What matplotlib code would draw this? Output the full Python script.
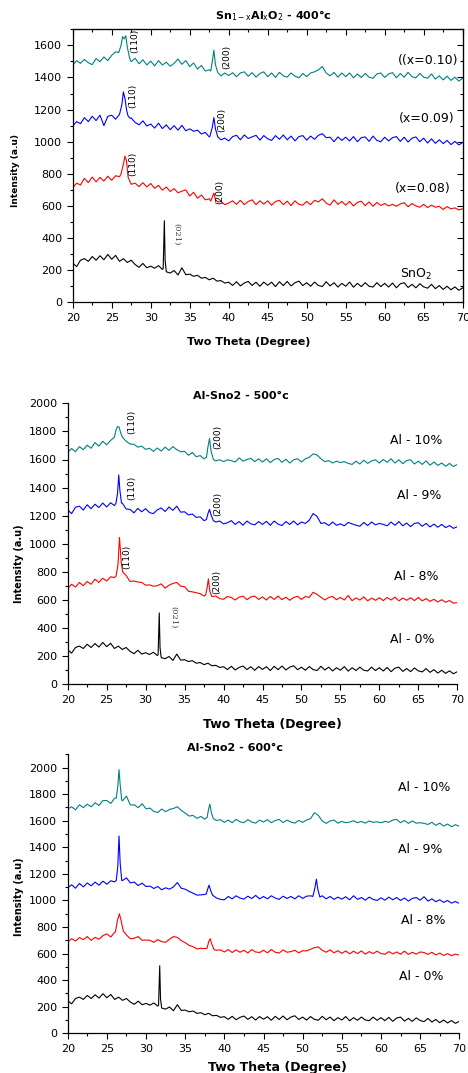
import numpy as np
import matplotlib
matplotlib.use("Agg")
import matplotlib.pyplot as plt
from matplotlib.ticker import MultipleLocator

# 2-theta grid, 0.5 degree steps (20 .. 70)
two_theta = np.arange(20, 70.01, 0.5)

# ---- 400 C ----
t400_base = [1475, 1505, 1488, 1512, 1492, 1480, 1518, 1498, 1528, 1505,
             1538, 1560, 1550, 1640, 1540, 1498, 1520, 1485, 1510, 1478,
             1502, 1472, 1505, 1478, 1495, 1470, 1488, 1515, 1482, 1505,
             1468, 1490, 1452, 1475, 1440, 1448, 1500, 1432, 1410, 1428,
             1412, 1430, 1405, 1428, 1435, 1408, 1430, 1402, 1425, 1435,
             1405, 1428, 1400, 1432, 1410, 1402, 1428, 1408, 1398, 1425,
             1405, 1428, 1435, 1448, 1468, 1428, 1410, 1432, 1402, 1428,
             1405, 1428, 1398, 1422, 1400, 1425, 1402, 1395, 1422, 1428,
             1400, 1422, 1430, 1398, 1425, 1402, 1432, 1405, 1398, 1425,
             1402, 1395, 1422, 1390, 1410, 1385, 1408, 1382, 1402, 1378,
             1395]
t400_peaks = [([25.9, 26.2, 26.4, 26.6, 26.8, 27.0, 27.3], [1555, 1600, 1655, 1640, 1660, 1590, 1520]),
              ([37.7, 37.9, 38.1, 38.3, 38.6], [1440, 1500, 1570, 1480, 1430])]

b400_base = [1098, 1125, 1112, 1150, 1125, 1158, 1132, 1165, 1100, 1158,
             1165, 1140, 1178, 1300, 1200, 1148, 1120, 1105, 1130, 1098,
             1110, 1085, 1115, 1082, 1105, 1075, 1100, 1072, 1102, 1068,
             1080, 1065, 1072, 1048, 1058, 1030, 1100, 1045, 1012, 1022,
             1005, 1032, 1040, 1012, 1042, 1020, 1030, 1040, 1010, 1038,
             1018, 1008, 1038, 1015, 1042, 1012, 1035, 1005, 1032, 1038,
             1010, 1035, 1015, 1040, 1050, 1025, 1028, 1000, 1030, 1008,
             1028, 1005, 1032, 1000, 1025, 1030, 1002, 1035, 1008, 1000,
             1028, 1005, 1025, 1032, 1002, 1028, 998, 1022, 1030, 1000,
             1022, 992, 1018, 990, 1012, 988, 1008, 982, 1002, 980,
             995]
b400_peaks = [([26.0, 26.3, 26.5, 26.7, 26.9, 27.1, 27.4], [1170, 1230, 1310, 1270, 1200, 1160, 1145]),
              ([37.6, 37.9, 38.1, 38.3, 38.6], [1035, 1090, 1150, 1080, 1030])]

r400_base = [712, 742, 730, 772, 745, 780, 750, 778, 755, 785,
             760, 788, 782, 880, 780, 735, 742, 720, 745, 718,
             740, 710, 728, 698, 718, 690, 708, 682, 692, 700,
             662, 685, 648, 668, 638, 645, 660, 625, 628, 608,
             618, 632, 610, 635, 608, 628, 638, 608, 632, 612,
             632, 605, 628, 635, 608, 630, 602, 632, 610, 605,
             628, 608, 635, 625, 645, 618, 605, 638, 610, 628,
             605, 628, 600, 622, 630, 602, 625, 598, 622, 603,
             615, 600, 610, 598, 612, 620, 595, 615, 600, 592,
             610, 590, 605, 592, 598, 578, 596, 582, 588, 575,
             582]
r400_peaks = [([26.2, 26.5, 26.7, 26.9, 27.1, 27.4], [800, 860, 910, 880, 780, 745]),
              ([37.7, 37.9, 38.1, 38.3, 38.6], [630, 655, 680, 640, 625])]

# SnO2 / Al 0% (same pattern in all three panels)
k_base = [245, 222, 262, 272, 255, 285, 262, 290, 265, 298,
          268, 292, 255, 272, 248, 262, 235, 218, 242, 215,
          225, 212, 228, 205, 195, 182, 198, 170, 215, 172,
          175, 162, 168, 150, 155, 140, 150, 132, 135, 120,
          125, 105, 128, 102, 120, 130, 105, 125, 100, 126,
          106, 125, 98, 128, 104, 130, 102, 122, 132, 104,
          122, 100, 126, 105, 98, 128, 102, 122, 95, 118,
          100, 126, 94, 118, 98, 122, 100, 95, 122, 98,
          118, 95, 120, 90, 115, 122, 92, 112, 90, 116,
          96, 88, 112, 85, 104, 80, 100, 78, 96, 75,
          90]
k_peaks = [([31.6, 31.75, 31.85, 32.0], [210, 508, 260, 190])]

# ---- 500 C ----
t500_base = [1650, 1678, 1655, 1692, 1670, 1702, 1680, 1720, 1695, 1730,
             1705, 1735, 1755, 1820, 1760, 1730, 1710, 1708, 1688, 1695,
             1672, 1680, 1658, 1682, 1660, 1688, 1665, 1692, 1670, 1655,
             1658, 1630, 1650, 1620, 1628, 1605, 1680, 1612, 1590, 1598,
             1585, 1598, 1592, 1582, 1612, 1588, 1600, 1608, 1585, 1605,
             1582, 1605, 1578, 1600, 1608, 1580, 1602, 1575, 1598, 1605,
             1582, 1605, 1615, 1640, 1632, 1605, 1585, 1592, 1575, 1588,
             1578, 1585, 1572, 1565, 1588, 1568, 1595, 1572, 1590, 1598,
             1575, 1600, 1580, 1605, 1575, 1598, 1570, 1592, 1598, 1568,
             1588, 1565, 1590, 1560, 1582, 1558, 1575, 1552, 1572, 1550,
             1565]
t500_peaks = [([26.0, 26.2, 26.4, 26.6, 26.8, 27.0], [1760, 1810, 1835, 1830, 1790, 1760]),
              ([37.8, 38.0, 38.2, 38.4, 38.7], [1615, 1690, 1750, 1660, 1600])]

b500_base = [1242, 1215, 1260, 1268, 1240, 1278, 1250, 1282, 1258, 1290,
             1262, 1292, 1272, 1400, 1290, 1248, 1245, 1220, 1252, 1228,
             1250, 1222, 1215, 1242, 1255, 1230, 1262, 1238, 1268, 1225,
             1228, 1205, 1212, 1188, 1192, 1165, 1220, 1195, 1155, 1162,
             1142, 1150, 1165, 1138, 1158, 1132, 1162, 1142, 1135, 1158,
             1138, 1160, 1132, 1162, 1140, 1130, 1158, 1138, 1162, 1135,
             1155, 1145, 1168, 1215, 1195, 1145, 1150, 1130, 1155, 1132,
             1142, 1128, 1152, 1142, 1132, 1125, 1152, 1130, 1155, 1135,
             1145, 1138, 1128, 1155, 1132, 1158, 1128, 1148, 1122, 1145,
             1150, 1125, 1145, 1120, 1140, 1118, 1138, 1115, 1130, 1110,
             1122]
b500_peaks = [([26.2, 26.4, 26.55, 26.7, 26.9], [1290, 1360, 1490, 1380, 1290]),
              ([37.8, 38.0, 38.2, 38.4, 38.7], [1172, 1215, 1245, 1205, 1165])]

r500_base = [682, 712, 692, 725, 702, 732, 712, 748, 725, 755,
             735, 765, 760, 900, 795, 775, 732, 735, 728, 725,
             705, 708, 698, 702, 715, 685, 705, 718, 725, 698,
             695, 662, 658, 652, 645, 628, 700, 632, 628, 610,
             605, 625, 618, 600, 620, 628, 602, 622, 628, 604,
             622, 600, 625, 604, 628, 602, 620, 598, 618, 626,
             604, 625, 618, 655, 640, 620, 600, 618, 626, 602,
             618, 600, 632, 595, 615, 600, 622, 594, 614, 598,
             616, 596, 618, 600, 620, 594, 614, 598, 616, 596,
             618, 594, 610, 590, 605, 586, 602, 584, 596, 578,
             582]
r500_peaks = [([26.2, 26.45, 26.65, 26.85, 27.05], [770, 850, 1045, 880, 800]),
              ([37.7, 37.9, 38.05, 38.25, 38.5], [635, 690, 750, 660, 625])]

# ---- 600 C ----
t600_base = [1688, 1705, 1682, 1720, 1698, 1725, 1705, 1735, 1715, 1752,
             1752, 1730, 1770, 1900, 1750, 1785, 1718, 1720, 1698, 1728,
             1690, 1695, 1670, 1662, 1688, 1668, 1685, 1692, 1705, 1678,
             1658, 1635, 1640, 1618, 1632, 1612, 1690, 1628, 1602, 1608,
             1588, 1605, 1585, 1610, 1592, 1585, 1608, 1590, 1582, 1605,
             1590, 1608, 1585, 1602, 1610, 1586, 1605, 1590, 1582, 1602,
             1588, 1605, 1615, 1660, 1640, 1598, 1580, 1598, 1605, 1582,
             1595, 1585, 1590, 1600, 1585, 1595, 1582, 1598, 1588, 1592,
             1585, 1595, 1588, 1605, 1610, 1585, 1602, 1580, 1598, 1582,
             1585, 1580, 1572, 1588, 1565, 1582, 1560, 1575, 1555, 1570,
             1558]
t600_peaks = [([26.2, 26.4, 26.55, 26.7, 26.9], [1770, 1860, 1985, 1870, 1755]),
              ([37.8, 38.0, 38.15, 38.35, 38.6], [1625, 1690, 1725, 1660, 1615])]

b600_base = [1095, 1118, 1092, 1128, 1102, 1132, 1110, 1138, 1115, 1145,
             1122, 1148, 1140, 1400, 1150, 1170, 1132, 1138, 1112, 1130,
             1105, 1108, 1090, 1105, 1080, 1095, 1085, 1102, 1135, 1092,
             1085, 1068, 1055, 1040, 1042, 1045, 1100, 1065, 1018, 1008,
             1005, 1030, 1012, 1035, 1018, 1010, 1032, 1015, 1038, 1012,
             1030, 1012, 1035, 1018, 1008, 1032, 1015, 1030, 1012, 1035,
             1015, 1032, 1035, 1100, 1100, 1035, 1012, 1030, 1008, 1025,
             1010, 1028, 1005, 1035, 1008, 1022, 1002, 1025, 1008, 1000,
             1020, 1002, 1025, 1005, 1022, 1000, 1018, 995, 1015, 1022,
             1002, 1028, 995, 1012, 990, 1005, 985, 1000, 980, 992,
             978]
b600_peaks = [([26.2, 26.4, 26.55, 26.7, 26.9], [1150, 1260, 1485, 1280, 1150]),
              ([37.7, 37.9, 38.05, 38.25, 38.5], [1050, 1090, 1115, 1075, 1040]),
              ([51.3, 51.55, 51.75, 51.95, 52.2], [1030, 1090, 1160, 1080, 1025])]

r600_base = [685, 712, 695, 720, 705, 728, 700, 722, 708, 735,
             748, 725, 760, 880, 775, 740, 712, 715, 728, 700,
             702, 700, 685, 705, 690, 685, 708, 728, 722, 698,
             682, 662, 652, 635, 640, 638, 690, 690, 625, 628,
             612, 630, 608, 628, 610, 625, 605, 630, 612, 608,
             625, 606, 630, 610, 604, 628, 610, 615, 625, 606,
             622, 620, 632, 645, 650, 625, 610, 628, 606, 622,
             602, 620, 598, 618, 600, 620, 596, 615, 600, 618,
             600, 595, 615, 598, 612, 595, 618, 594, 610, 596,
             612, 608, 594, 610, 590, 604, 586, 600, 584, 596,
             588]
r600_peaks = [([26.1, 26.35, 26.6, 26.85, 27.1], [765, 850, 900, 840, 770]),
              ([37.8, 38.0, 38.2, 38.4, 38.7], [640, 690, 712, 670, 630])]

TEAL = "#008080"


def build(base, peaks):
    x = two_theta.copy()
    y = np.array(base, dtype=float)
    keep = np.ones(len(x), dtype=bool)
    px_all, py_all = [], []
    for px, py in peaks:
        keep &= ~((x >= px[0]) & (x <= px[-1]))
        px_all += list(px)
        py_all += list(py)
    xs = np.concatenate([x[keep], px_all])
    ys = np.concatenate([y[keep], py_all])
    order = np.argsort(xs)
    return xs[order], ys[order]


def set_locators(axis_obj, major, minor):
    axis_obj.set_major_locator(MultipleLocator(major))
    axis_obj.set_minor_locator(MultipleLocator(minor))


def style_axes(ax, ymax, boxed):
    ax.set_xlim(20, 70)
    ax.set_ylim(0, ymax)
    set_locators(ax.xaxis, 5, 2.5)
    set_locators(ax.yaxis, 200, 100)
    ax.tick_params(which="both", direction="out", labelsize=8, width=0.8)
    ax.tick_params(which="major", length=4)
    ax.tick_params(which="minor", length=2.5)
    for s in ax.spines.values():
        s.set_linewidth(0.9)
    if boxed:
        # inward ticks on top and right, no labels
        top = ax.secondary_xaxis("top")
        set_locators(top.xaxis, 5, 2.5)
        top.tick_params(which="both", direction="in", labeltop=False, width=0.8)
        top.tick_params(which="major", length=4)
        top.tick_params(which="minor", length=2.5)
        right = ax.secondary_yaxis("right")
        set_locators(right.yaxis, 200, 100)
        right.tick_params(which="both", direction="in", labelright=False, width=0.8)
        right.tick_params(which="major", length=4)
        right.tick_params(which="minor", length=2.5)
    else:
        ax.spines["top"].set_visible(False)
        ax.spines["right"].set_visible(False)


W, H = 468, 1073
fig = plt.figure(figsize=(W / 100, H / 100), dpi=100)


def px_axes(left, top, right, bottom):
    return fig.add_axes([left / W, 1 - bottom / H, (right - left) / W, (bottom - top) / H])


def txt(x, y, s, **kw):
    fig.text(x / W, 1 - y / H, s, ha="center", va="center", **kw)


lw = 0.8

# Panel 1: 400 C
ax1 = px_axes(72.7, 29.3, 462.7, 302.3)
for base, peaks, c in [(k_base, k_peaks, "black"), (r400_base, r400_peaks, "red"),
                       (b400_base, b400_peaks, "blue"), (t400_base, t400_peaks, TEAL)]:
    xs, ys = build(base, peaks)
    ax1.plot(xs, ys, color=c, lw=lw)
style_axes(ax1, 1700, True)
ax1.text(69.5, 1508, "((x=0.10)", ha="right", va="center", fontsize=9)
ax1.text(69.0, 1147, "(x=0.09)", ha="right", va="center", fontsize=9)
ax1.text(68.4, 706, "(x=0.08)", ha="right", va="center", fontsize=9)
ax1.text(62.0, 176, "SnO$_2$", ha="left", va="center", fontsize=9)
for x, y, s in [(28.0, 1628, "(110)"), (27.7, 1285, "(110)"), (39.7, 1528, "(200)"),
                (39.1, 1135, "(200)"), (27.75, 860, "(110)"), (38.9, 686, "(200)")]:
    ax1.text(x, y, s, rotation=90, ha="center", va="center", fontsize=6.5)
ax1.text(33.3, 425, "(021)", rotation=270, ha="center", va="center", fontsize=6,
         family="DejaVu Serif", color="#444444")
txt(273, 15.5, r"Sn$_{\mathrm{1-x}}$Al$_{\mathrm{x}}$O$_{\mathrm{2}}$ - 400°c", fontsize=8, fontweight="bold")
txt(248.7, 341.7, "Two Theta (Degree)", fontsize=8, fontweight="bold")
txt(16, 170, "Intensity (a.u)", rotation=90, fontsize=6.5, fontweight="bold")

# Panel 2: 500 C
ax2 = px_axes(67.7, 403.3, 457.3, 684.3)
for base, peaks, c in [(k_base, k_peaks, "black"), (r500_base, r500_peaks, "red"),
                       (b500_base, b500_peaks, "blue"), (t500_base, t500_peaks, TEAL)]:
    xs, ys = build(base, peaks)
    ax2.plot(xs, ys, color=c, lw=lw)
style_axes(ax2, 2000, False)
for x, y, s in [(61.4, 1738, "Al - 10%"), (62.2, 1347, "Al - 9%"),
                (61.9, 766, "Al - 8%"), (61.4, 320, "Al - 0%")]:
    ax2.text(x, y, s, ha="left", va="center", fontsize=9)
for x, y, s in [(28.2, 1867, "(110)"), (28.2, 1397, "(110)"), (39.3, 1760, "(200)"),
                (39.2, 1283, "(200)"), (27.6, 906, "(110)"), (39.1, 727, "(200)")]:
    ax2.text(x, y, s, rotation=90, ha="center", va="center", fontsize=6.5)
ax2.text(33.55, 479, "(021)", rotation=270, ha="center", va="center", fontsize=6,
         family="DejaVu Serif", color="#444444")
txt(241, 395.7, "Al-Sno2 - 500°c", fontsize=8, fontweight="bold")
txt(272.5, 724.3, "Two Theta (Degree)", fontsize=9, fontweight="bold")
txt(19, 564, "Intensity (a.u)", rotation=90, fontsize=7, fontweight="bold")

# Panel 3: 600 C
ax3 = px_axes(67.7, 754.3, 459.3, 1033.3)
for base, peaks, c in [(k_base, k_peaks, "black"), (r600_base, r600_peaks, "red"),
                       (b600_base, b600_peaks, "blue"), (t600_base, t600_peaks, TEAL)]:
    xs, ys = build(base, peaks)
    ax3.plot(xs, ys, color=c, lw=lw)
style_axes(ax3, 2100, False)
for x, y, s in [(62.2, 1852, "Al - 10%"), (62.2, 1380, "Al - 9%"),
                (62.5, 849, "Al - 8%"), (62.3, 424, "Al - 0%")]:
    ax3.text(x, y, s, ha="left", va="center", fontsize=9)
txt(235, 747.7, "Al-Sno2 - 600°c", fontsize=8, fontweight="bold")
txt(277, 1067.3, "Two Theta (Degree)", fontsize=9, fontweight="bold")
txt(19, 897, "Intensity (a.u)", rotation=90, fontsize=7, fontweight="bold")

fig.savefig("out.png", dpi=100)
